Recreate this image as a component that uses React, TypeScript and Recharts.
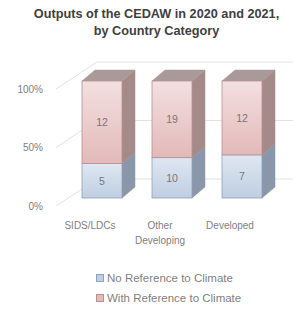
import { BarChart, Bar, XAxis, YAxis, CartesianGrid, LabelList } from "recharts";

const categories = ["SIDS/LDCs", "Other Developing", "Developed"];
const noReference = [5, 10, 7];
const withReference = [12, 19, 12];
const yTicks = [0, 0.5, 1];

const seriesNames = ["No Reference to Climate", "With Reference to Climate"];

const data = categories.map((name, i) => ({
  name,
  no: noReference[i],
  with: withReference[i],
}));

// depth of the bars and of the floor/back wall
const DX = 13;
const DY = -11;

const palette = {
  no: { top: "#dfe7f1", bottom: "#bfcee2", side: "#8a97aa", edge: "#8ea1bb", cap: "#a9b7c9" },
  with: { top: "#f3e0e0", bottom: "#e3b9b9", side: "#a58a8a", edge: "#b98f8f", cap: "#a99999" },
};

function makeShape(key: "no" | "with", withCap: boolean) {
  return (props: any) => {
    const { x, y, width, height, index } = props;
    const c = palette[key];
    const gid = `g-${key}-${index}`;
    const r = x + width;
    return (
      <g>
        <defs>
          <linearGradient id={gid} x1="0" y1="0" x2="0" y2="1">
            <stop offset="0%" stopColor={c.top} />
            <stop offset="100%" stopColor={c.bottom} />
          </linearGradient>
        </defs>
        <polygon
          points={`${r},${y} ${r + DX},${y + DY} ${r + DX},${y + height + DY} ${r},${y + height}`}
          fill={c.side}
          stroke={c.side}
          strokeWidth={0.5}
        />
        {withCap && (
          <polygon
            points={`${x},${y} ${x + DX},${y + DY} ${r + DX},${y + DY} ${r},${y}`}
            fill={c.cap}
            stroke={c.cap}
            strokeWidth={0.5}
          />
        )}
        <rect x={x} y={y} width={width} height={height} fill={`url(#${gid})`} stroke={c.edge} strokeWidth={0.8} />
      </g>
    );
  };
}

const gridLine = (p: any) => {
  const y = p.y1;
  return (
    <polyline
      key={`grid-${y}`}
      points={`${p.x1 - 11},${y + 8} ${p.x1 + 30},${y - 19} 293,${y - 19}`}
      fill="none"
      stroke="#e2e2e2"
      strokeWidth={1}
    />
  );
};

const YTick = (props: any) => {
  const { x, y, payload } = props;
  return (
    <text x={x - 22} y={y + 11.5} textAnchor="end" fontSize={10} fill="#7f7f7f" fontFamily="Liberation Sans, Arial, sans-serif">
      {`${Math.round(payload.value * 100)}%`}
    </text>
  );
};

const XTick = (props: any) => {
  const { x, y, payload } = props;
  const lines = String(payload.value).split(" ");
  return (
    <text x={x - 12} y={y + 28.5} textAnchor="middle" fontSize={10} fill="#7f7f7f" fontFamily="Liberation Sans, Arial, sans-serif">
      {lines.map((l, i) => (
        <tspan key={l} x={x - 12} dy={i === 0 ? 0 : 15}>
          {l}
        </tspan>
      ))}
    </text>
  );
};

export default function App() {
  return (
    <div
      style={{
        position: "absolute",
        left: 0,
        top: 0,
        width: 293,
        height: 309,
        background: "#fff",
        fontFamily: "Liberation Sans, Arial, sans-serif",
      }}
    >
      <div
        style={{
          position: "absolute",
          top: 6,
          left: 10,
          width: 293,
          textAlign: "center",
          fontWeight: "bold",
          fontSize: 12.7,
          lineHeight: "17px",
          color: "#404040",
        }}
      >
        Outputs of the CEDAW in 2020 and 2021,
        <br />
        by Country Category
      </div>
      <div style={{ position: "absolute", left: 0, top: 0 }}>
        <BarChart
          width={293}
          height={309}
          data={data}
          stackOffset="expand"
          margin={{ top: 81, right: 16, bottom: 71, left: 17 }}
        >
          <CartesianGrid vertical={false} horizontal={gridLine} />
          <XAxis dataKey="name" axisLine={false} tickLine={false} tickSize={0} tick={<XTick />} interval={0} height={40} />
          <YAxis
            width={50}
            domain={[0, 1]}
            ticks={yTicks}
            axisLine={false}
            tickLine={false}
            tickSize={0}
            tick={<YTick />}
          />
          <Bar dataKey="no" stackId="a" barSize={40} shape={makeShape("no", false)} isAnimationActive={false}>
            <LabelList dataKey="no" position="center" fontSize={10.5} fill="#777" fontFamily="Liberation Sans, Arial, sans-serif" />
          </Bar>
          <Bar dataKey="with" stackId="a" barSize={40} shape={makeShape("with", true)} isAnimationActive={false}>
            <LabelList dataKey="with" position="center" fontSize={10.5} fill="#777" fontFamily="Liberation Sans, Arial, sans-serif" />
          </Bar>
        </BarChart>
      </div>
      <div
        style={{
          position: "absolute",
          left: 96,
          top: 268,
          fontSize: 11.5,
          color: "#7f7f7f",
          lineHeight: "20px",
        }}
      >
        {seriesNames.map((n, i) => {
          const c = i === 0 ? palette.no : palette.with;
          return (
            <div key={n} style={{ display: "flex", alignItems: "center" }}>
              <span
                style={{
                  display: "inline-block",
                  width: 6,
                  height: 6,
                  background: c.bottom,
                  border: `1px solid ${c.edge}`,
                  marginRight: 3,
                }}
              />
              {n}
            </div>
          );
        })}
      </div>
    </div>
  );
}
